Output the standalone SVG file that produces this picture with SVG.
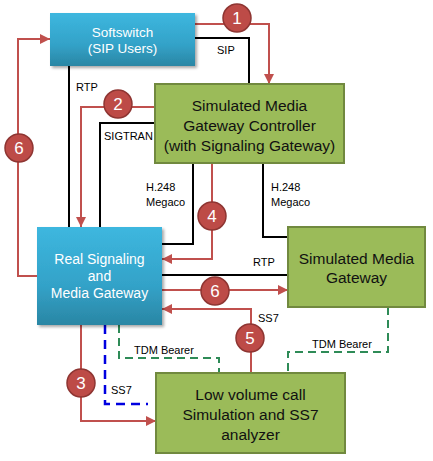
<svg xmlns="http://www.w3.org/2000/svg" width="433" height="461" viewBox="0 0 433 461">
<defs>
<linearGradient id="blue" x1="0" y1="0" x2="0" y2="1">
<stop offset="0" stop-color="#3db7df"/>
<stop offset="0.6" stop-color="#33a2c8"/>
<stop offset="1" stop-color="#2a86a4"/>
</linearGradient>
<marker id="ar" viewBox="0 0 10 10" refX="10" refY="5" markerWidth="10" markerHeight="10" markerUnits="userSpaceOnUse" orient="auto">
<path d="M0,0 L10,5 L0,10 z" fill="#c0504d"/>
</marker>
<filter id="sh" x="-10%" y="-10%" width="130%" height="130%">
<feGaussianBlur in="SourceAlpha" stdDeviation="1.5"/>
<feOffset dx="1.5" dy="2" result="b"/>
<feComponentTransfer><feFuncA type="linear" slope="0.35"/></feComponentTransfer>
<feMerge><feMergeNode/><feMergeNode in="SourceGraphic"/></feMerge>
</filter>
</defs>
<style>
.blue{fill:url(#blue);filter:url(#sh)}
.green{fill:#9bbb59;stroke:#71893f;stroke-width:2}
.bt{font-family:"Liberation Sans",Arial,sans-serif;fill:#fff;text-anchor:middle}
.gt{font-family:"Liberation Sans",Arial,sans-serif;fill:#111;font-size:15.5px;text-anchor:middle}
.lb{font-family:"Liberation Sans",Arial,sans-serif;fill:#000;font-size:11px}
.k{fill:none;stroke:#000;stroke-width:2}
.ra{fill:none;stroke:#c0504d;stroke-width:2;marker-end:url(#ar)}
.gd{fill:none;stroke:#2e8b57;stroke-width:2;stroke-dasharray:8,5}
.bd{fill:none;stroke:#0000e0;stroke-width:2.5;stroke-dasharray:9,6}
.c{fill:#bd4b47;stroke:#8e3532;stroke-width:1.5}
.ct{font-family:"Liberation Sans",Arial,sans-serif;fill:#fff;font-size:17px;text-anchor:middle}
</style>
<rect width="433" height="461" fill="#fff"/>
<g id="connectors">
<path class="k" d="M195,38 H249 V84"/>
<path class="k" d="M69,66 V227"/>
<path class="k" d="M155,123 H100 V227"/>
<path class="k" d="M193,163 V244 H162"/>
<path class="k" d="M263,163 V237 H288"/>
<path class="k" d="M162,275 H288"/>
<path class="gd" d="M119,325 V358 H219 V373"/>
<path class="gd" d="M388,307 V352 H288 V373"/>
<path class="bd" d="M105,325 V404 H148"/>
<path class="ra" d="M195,24 H269 V84"/>
<path class="ra" d="M155,107 H81 V227"/>
<path class="ra" d="M212,163 V259 H162"/>
<path class="ra" d="M162,290 H288"/>
<path class="ra" d="M251,373 V309 H162"/>
<path class="ra" d="M81,325 V421 H156"/>
<path class="ra" d="M37,276 H18 V39 H50"/>
<text class="lb" x="217" y="54">SIP</text>
<text class="lb" x="76" y="91">RTP</text>
<text class="lb" x="104" y="140" font-size="10.3">SIGTRAN</text>
<text class="lb" x="146" y="191">H.248</text>
<text class="lb" x="146" y="206">Megaco</text>
<text class="lb" x="271" y="191">H.248</text>
<text class="lb" x="271" y="206">Megaco</text>
<text class="lb" x="253" y="266">RTP</text>
<text class="lb" x="258" y="322">SS7</text>
<text class="lb" x="134" y="354">TDM Bearer</text>
<text class="lb" x="312" y="348">TDM Bearer</text>
<text class="lb" x="111" y="394">SS7</text>
<g id="step1"><circle class="c" cx="237" cy="18" r="14"/><text class="ct" x="237" y="24">1</text></g>
<g id="step2"><circle class="c" cx="118" cy="104" r="14"/><text class="ct" x="118" y="110">2</text></g>
<g id="step3"><circle class="c" cx="81" cy="383" r="14"/><text class="ct" x="81" y="389">3</text></g>
<g id="step4"><circle class="c" cx="212" cy="216" r="14"/><text class="ct" x="212" y="222">4</text></g>
<g id="step5"><circle class="c" cx="250" cy="338" r="14"/><text class="ct" x="250" y="344">5</text></g>
<g id="step6a"><circle class="c" cx="215" cy="291" r="14"/><text class="ct" x="215" y="297">6</text></g>
<g id="step6b"><circle class="c" cx="19" cy="148" r="14"/><text class="ct" x="19" y="154">6</text></g>
</g>
<g id="softswitch">
<rect class="blue" x="50" y="13" width="145" height="53"/>
<text class="bt" x="122.5" y="37" font-size="13.5">Softswitch</text>
<text class="bt" x="122.5" y="53" font-size="13.5">(SIP Users)</text>
</g>
<g id="smgc">
<rect class="green" x="155" y="84" width="189" height="79"/>
<text class="gt" x="249.5" y="110.5">Simulated Media</text>
<text class="gt" x="249.5" y="130.5">Gateway Controller</text>
<text class="gt" x="249.5" y="150.5">(with Signaling Gateway)</text>
</g>
<g id="real-gateway">
<rect class="blue" x="37" y="227" width="125" height="98"/>
<text class="bt" x="99.5" y="264" font-size="14">Real Signaling</text>
<text class="bt" x="99.5" y="281" font-size="14">and</text>
<text class="bt" x="99.5" y="298" font-size="14">Media Gateway</text>
</g>
<g id="smg">
<rect class="green" x="288" y="227" width="137" height="80"/>
<text class="gt" x="356.5" y="263.5">Simulated Media</text>
<text class="gt" x="356.5" y="283">Gateway</text>
</g>
<g id="analyzer">
<rect class="green" x="156" y="373" width="189" height="80"/>
<text class="gt" x="250.5" y="399.5">Low volume call</text>
<text class="gt" x="250.5" y="419.5">Simulation and SS7</text>
<text class="gt" x="250.5" y="439.5">analyzer</text>
</g>
</svg>
